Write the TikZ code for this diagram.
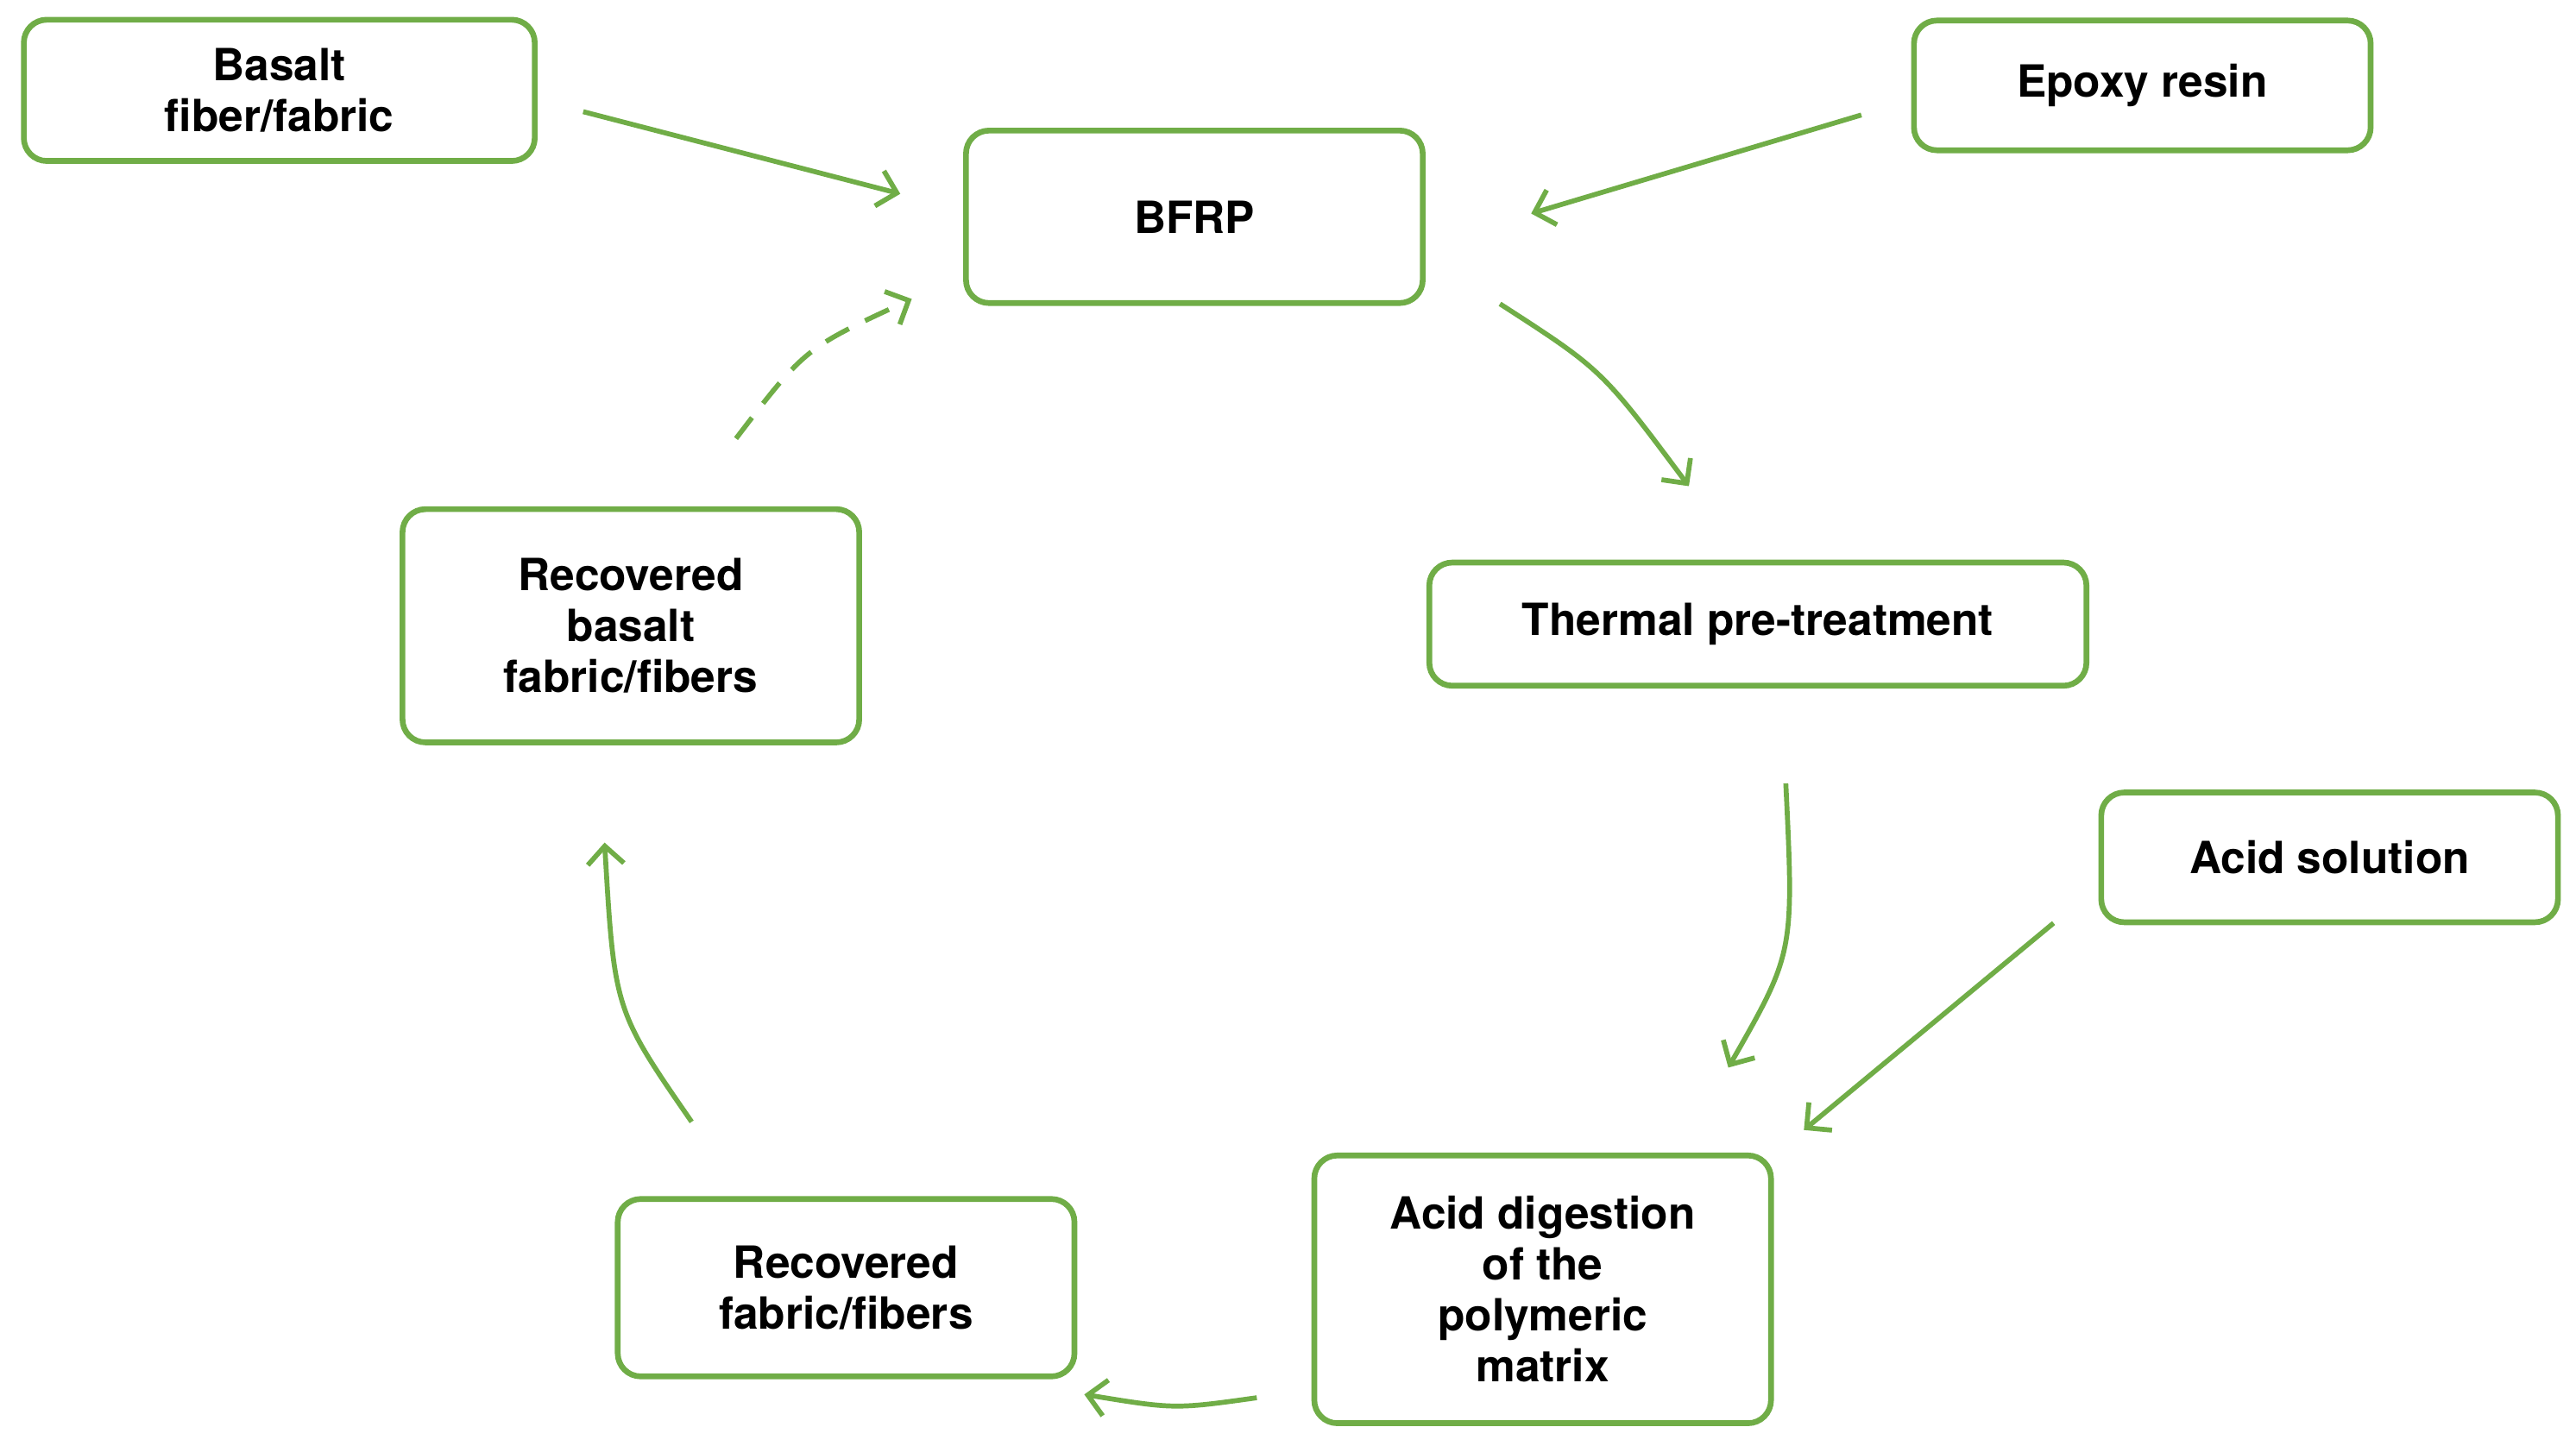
\documentclass[tikz,border=0pt]{standalone}
\usepackage{fontspec}
\setmainfont{TeX Gyre Heros}
\usetikzlibrary{arrows.meta}
\definecolor{gr}{RGB}{112,173,71}
\begin{document}
\begin{tikzpicture}[x=1pt,y=-1pt,
 box/.style={draw=gr,line width=3.5pt,rounded corners=14pt,align=center,font=\fontsize{27}{31}\selectfont\bfseries,inner sep=0pt},
 arr/.style={draw=gr,line width=3pt,-{Straight Barb[length=11pt,width=22pt,line width=3pt]}}]
\useasboundingbox (0,0) rectangle (1568,880);
\node[box,minimum width=311pt,minimum height=86pt] (basalt) at (170,55) {Basalt\\fiber/fabric};
\node[box,minimum width=278pt,minimum height=105pt] (bfrp) at (727,132) {BFRP};
\node[box,minimum width=278pt,minimum height=79pt] (epoxy) at (1304,52) {Epoxy resin};
\node[box,minimum width=400pt,minimum height=75pt] (thermal) at (1070,380) {Thermal pre-treatment};
\node[box,minimum width=278pt,minimum height=79pt] (acidsol) at (1418,522) {Acid solution};
\node[box,minimum width=278pt,minimum height=163pt] (digest) at (939,785) {Acid digestion\\of the\\polymeric\\matrix};
\node[box,minimum width=278pt,minimum height=108pt] (recf) at (515,784) {Recovered\\fabric/fibers};
\node[box,minimum width=278pt,minimum height=142pt] (recb) at (384,381) {Recovered\\basalt\\fabric/fibers};
\coordinate (a1s) at (355,68); \coordinate (a1e) at (548,118);
\coordinate (a2s) at (1133,70); \coordinate (a2e) at (932,130);
\coordinate (a3s) at (913,185); \coordinate (a3e) at (1028,296);
\coordinate (a4s) at (1087,477); \coordinate (a4e) at (1052,650);
\coordinate (a5s) at (1250,562); \coordinate (a5e) at (1098,688);
\coordinate (a6s) at (765,851); \coordinate (a6e) at (660,849);
\coordinate (a7s) at (421,683); \coordinate (a7e) at (368,513);
\coordinate (a8s) at (448,267); \coordinate (a8e) at (555,182);
\draw[arr] (a1s) -- (a1e);
\draw[arr] (a2s) -- (a2e);
\draw[arr] (a3s) .. controls (975,225) .. (a3e);
\draw[arr] (a4s) .. controls (1092,580) .. (a4e);
\draw[arr] (a5s) -- (a5e);
\draw[arr] (a6s) .. controls (715,858) .. (a6e);
\draw[arr] (a7s) .. controls (374,615) .. (a7e);
\draw[arr,dash pattern=on 16pt off 11pt] (a8s) .. controls (490,212) .. (a8e);
\end{tikzpicture}
\end{document}
